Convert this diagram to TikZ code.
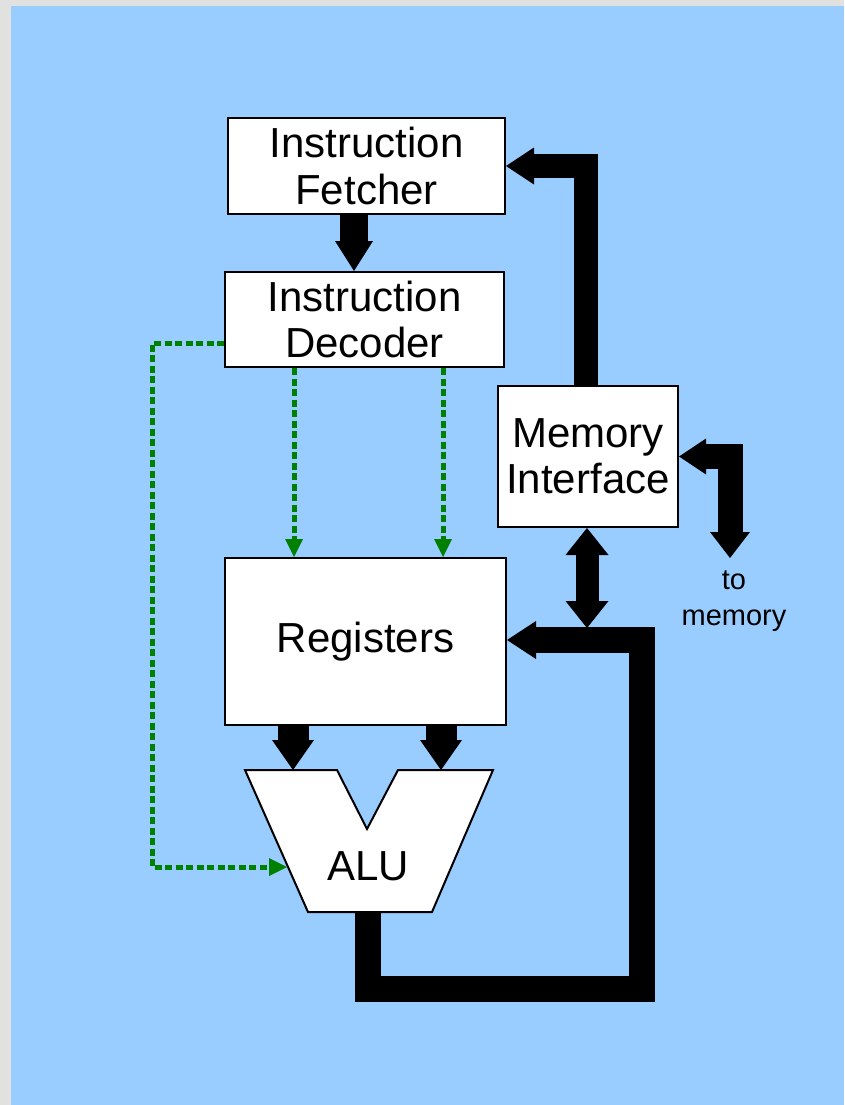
\documentclass[tikz,border=0pt]{standalone}
\usepackage{fontspec}
\setmainfont{Liberation Sans}
\usetikzlibrary{arrows.meta}

\definecolor{pagegray}{HTML}{E1E1E0}
\definecolor{panelblue}{HTML}{99CCFF}
\definecolor{ctlgreen}{HTML}{008000}

\begin{document}
\begin{tikzpicture}[x=1pt,y=-1pt,
  unit/.style={draw=black, line width=2pt, fill=white, inner sep=0pt,
    align=center, font=\fontsize{42}{46.5}\selectfont},
  bus/.style={draw=black, line width=#1},
  bus/.default=25pt,
  bighead/.style n args={2}{-{Triangle[length=#1,width=#2,line width=0pt]}},
  ctl/.style={draw=ctlgreen, line width=5pt, dash pattern=on 7pt off 3.5pt,
    -{Triangle[length=18pt,width=18pt,line width=0pt]}},
  note/.style={inner sep=0pt, align=center, font=\fontsize{29}{36}\selectfont}
]

% page and panel
\fill[pagegray] (0,0) rectangle (844,1105);
\fill[panelblue] (11,6) rectangle (844,1105);
\useasboundingbox (0,0) rectangle (844,1105);

% functional units
\node[unit, minimum width=277pt, minimum height=96pt] (fetch) at (366.5,166) {Instruction\\Fetcher};
\node[unit, minimum width=279pt, minimum height=95pt] (decode) at (364.5,319.5) {Instruction\\Decoder};
\node[unit, minimum width=180pt, minimum height=141pt] (mem) at (588,456.5) {Memory\\Interface};
\node[unit, minimum width=281pt, minimum height=167pt] (reg) at (365.5,641.5) {Registers};

% ALU: notched trapezoid
\draw[line width=2pt, fill=white]
  (245,770) -- (337,770) -- (367,829) -- (398,770) -- (493,770)
  -- (432,912) -- (308,912) -- cycle;
\node[inner sep=0pt, font=\fontsize{42}{46.5}\selectfont] (alu) at (368,866) {ALU};
\coordinate (aluinA) at (293,770);
\coordinate (aluinB) at (441,770);
\coordinate (aluctl) at (287,867);
\coordinate (aluout) at (368,912);

% routing points
\coordinate (fdcol) at (354,0);
\coordinate (memup) at (586,0);
\coordinate (tap) at (587,628);
\coordinate (ext) at (730,558);
\coordinate (loopA) at (368,989);
\coordinate (loopB) at (642,989);
\coordinate (loopC) at (642,640);
\coordinate (ctlL) at (152,343);
\coordinate (ctlA) at (294,0);
\coordinate (ctlB) at (443,0);

% data paths
\draw[bus=28pt, bighead={30pt}{38pt}] (fetch.south -| fdcol) -- (decode.north -| fdcol);
\draw[bus=24pt, bighead={28pt}{37pt}] (mem.north -| memup) |- (fetch.east);
\draw[bus=23pt, {Triangle[length=27pt,width=43pt,line width=0pt]}-{Triangle[length=27pt,width=43pt,line width=0pt]}]
  (mem.south -| tap) -- (tap);
\draw[bus=25pt, {Triangle[length=27pt,width=36pt,line width=0pt]}-{Triangle[length=26pt,width=40pt,line width=0pt]}]
  (mem.east) -| (ext);
\draw[bus=31pt, bighead={30pt}{42pt}] (reg.south -| aluinA) -- (aluinA);
\draw[bus=31pt, bighead={30pt}{42pt}] (reg.south -| aluinB) -- (aluinB);
\draw[bus=26pt, bighead={29pt}{38pt}] (aluout) -- (loopA) -- (loopB) -- (loopC) -- (reg.east |- loopC);

\node[note] (tomem) at (734,601) {to\\memory};

% control signals
\draw[ctl] (decode.west |- ctlL) -- (ctlL) |- (aluctl);
\draw[ctl] (decode.south -| ctlA) -- (reg.north -| ctlA);
\draw[ctl] (decode.south -| ctlB) -- (reg.north -| ctlB);

\end{tikzpicture}
\end{document}
